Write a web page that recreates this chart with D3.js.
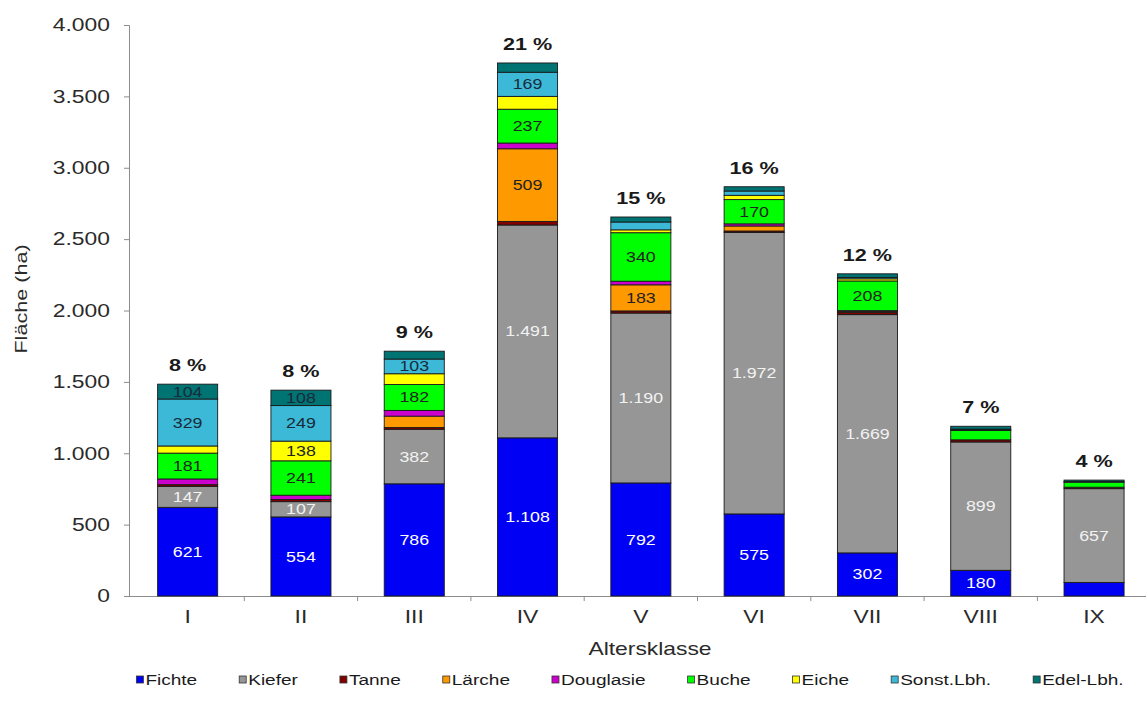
<!DOCTYPE html>
<html>
<head>
<meta charset="utf-8">
<script src="https://cdn.jsdelivr.net/npm/d3@7"></script>
<style>
  body { margin: 0; background: #fff; }
  svg { display: block; }
  text { font-family: "Liberation Sans", Arial, sans-serif; }
</style>
</head>
<body>
<svg id="chart" width="1146" height="706"></svg>
<script>
// Age classes and tree species
const classes = ["I", "II", "III", "IV", "V", "VI", "VII", "VIII", "IX"];
const species = ["Fichte", "Kiefer", "Tanne", "Lärche", "Douglasie", "Buche", "Eiche", "Sonst.Lbh.", "Edel-Lbh."];

// Area (ha) per species and age class
const fichte    = [621, 554, 786, 1108, 792, 575, 302, 180, 95];
const kiefer    = [147, 107, 382, 1491, 1190, 1972, 1669, 899, 657];
const tanne     = [12, 15, 12, 25, 15, 10, 15, 15, 10];
const laerche   = [0, 0, 80, 509, 183, 35, 8, 0, 0];
const douglasie = [40, 30, 40, 40, 25, 15, 5, 0, 0];
const buche     = [181, 241, 182, 237, 340, 170, 208, 65, 35];
const eiche     = [50, 138, 75, 90, 20, 30, 15, 5, 0];
const sonstLbh  = [329, 249, 103, 169, 55, 30, 10, 5, 5];
const edelLbh   = [104, 108, 55, 65, 35, 30, 25, 20, 10];

const yTicks = [0, 500, 1000, 1500, 2000, 2500, 3000, 3500, 4000];

const colors = ["#0000f5", "#969696", "#800000", "#ff9900", "#cc00cc", "#00ff00", "#ffff00", "#3cb9d6", "#007373"];
const labelColors = ["#ffffff", "#f2f2f2", "#000", "#222", "#000", "#222", "#222", "#1a2a3a", "#1a2a3a"];

const seriesValues = [fichte, kiefer, tanne, laerche, douglasie, buche, eiche, sonstLbh, edelLbh];

// Table of rows for d3.stack
const rows = classes.map((c, i) => {
  const r = { klasse: c };
  species.forEach((s, k) => { r[s] = seriesValues[k][i]; });
  return r;
});

const W = 1146, H = 706;
const SX = 1.27; // horizontal glyph stretch of all labels
const svg = d3.select("#chart");

const de = d3.formatLocale({ decimal: ",", thousands: ".", grouping: [3], currency: ["", " €"] });
const fmt = de.format(",d");

const axisX0 = 129;
const y = d3.scaleLinear().domain([0, 4000]).range([596, 25]);
const x = d3.scaleBand().domain(classes).range([131, 131 + 9 * 113.3])
  .paddingInner(0.47).paddingOuter(0.235);

function stext(g, px, py, str, opts = {}) {
  const t = g.append("text")
    .attr("transform", `translate(${px},${py}) ${opts.rotate ? `rotate(${opts.rotate})` : ""} scale(${SX},1)`)
    .attr("text-anchor", opts.anchor || "middle")
    .attr("font-size", opts.size || 14)
    .attr("font-weight", opts.weight || "normal")
    .attr("fill", opts.fill || "#222")
    .text(str);
  if (opts.dy) t.attr("dy", opts.dy);
  return t;
}

// Y axis
const yAxis = svg.append("g").attr("transform", `translate(${axisX0},0)`)
  .call(d3.axisLeft(y).tickValues(yTicks).tickSize(5).tickFormat(d => fmt(d)));
yAxis.select(".domain").attr("stroke", "#8c8c8c");
yAxis.selectAll(".tick line").attr("stroke", "#8c8c8c");
yAxis.selectAll(".tick text").remove();
const yLab = svg.append("g");
yTicks.forEach(v => {
  stext(yLab, 110, y(v), fmt(v), { anchor: "end", size: 18, fill: "#2a2a2a", dy: "0.35em" });
});

// X axis line and boundary ticks
svg.append("line").attr("x1", axisX0).attr("x2", W).attr("y1", y(0) + 0.5).attr("y2", y(0) + 0.5)
  .attr("stroke", "#8c8c8c");
const gap = x.step() - x.bandwidth();
svg.append("g").selectAll("line").data(classes.slice(1)).join("line")
  .attr("x1", d => x(d) - gap / 2).attr("x2", d => x(d) - gap / 2)
  .attr("y1", y(0)).attr("y2", y(0) + 5).attr("stroke", "#8c8c8c");

// Category labels
const xLab = svg.append("g");
classes.forEach(c => stext(xLab, x(c) + x.bandwidth() / 2, 623, c, { size: 18, fill: "#2a2a2a" }));

// Axis titles
stext(svg, 650, 655, "Altersklasse", { size: 18, fill: "#2a2a2a" });
stext(svg, 27, 299, "Fläche (ha)", { size: 17, fill: "#2a2a2a", rotate: -90 });

// Stacked bars
const stack = d3.stack().keys(species)(rows);
const barG = svg.append("g");
stack.forEach((layer, k) => {
  barG.append("g").selectAll("rect").data(layer).join("rect")
    .attr("x", d => x(d.data.klasse))
    .attr("width", x.bandwidth())
    .attr("y", d => y(d[1]))
    .attr("height", d => Math.max(0, y(d[0]) - y(d[1])))
    .attr("fill", colors[k])
    .attr("stroke", d => (d[1] - d[0]) > 0 ? "#1a1a1a" : "none")
    .attr("stroke-width", 0.9);
});

// Value labels inside segments (only for segments of at least 100 ha)
const valG = svg.append("g");
stack.forEach((layer, k) => {
  layer.forEach(d => {
    const v = d[1] - d[0];
    if (v >= 100) {
      stext(valG, x(d.data.klasse) + x.bandwidth() / 2, (y(d[0]) + y(d[1])) / 2, fmt(v),
        { size: 14, fill: labelColors[k], dy: "0.36em" });
    }
  });
});

// Percentage of total area above each bar
const totals = rows.map(r => d3.sum(species, s => r[s]));
const grand = d3.sum(totals);
const pctG = svg.append("g");
rows.forEach((r, i) => {
  const pct = Math.round(totals[i] / grand * 100);
  stext(pctG, x(r.klasse) + x.bandwidth() / 2, y(totals[i]) - 13, pct + " %",
    { size: 17, weight: "bold", fill: "#1a1a1a" });
});

// Legend
const legG = svg.append("g");
let lx = 0;
species.forEach((s, k) => {
  const it = legG.append("g").attr("transform", `translate(${lx},0)`);
  it.append("rect").attr("x", 0).attr("y", -4).attr("width", 7).attr("height", 7)
    .attr("fill", colors[k]).attr("stroke", "#333").attr("stroke-width", 0.8);
  const t = stext(it, 9, 0, s, { anchor: "start", size: 15, fill: "#1a1a1a", dy: "0.36em" });
  const w = t.node().getComputedTextLength() * SX;
  lx += 9 + w + 42;
});
const legW = lx - 42;
legG.attr("transform", `translate(${630 - legW / 2},680)`);
</script>
</body>
</html>
